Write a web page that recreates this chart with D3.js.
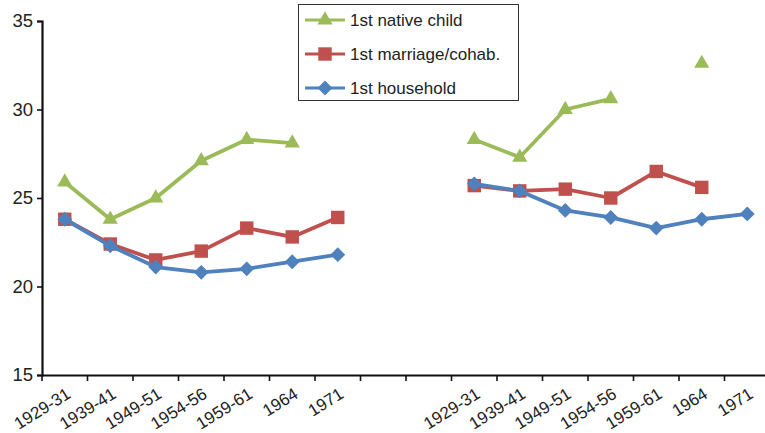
<!DOCTYPE html>
<html><head><meta charset="utf-8">
<script src="https://cdn.jsdelivr.net/npm/d3@7"></script>
<style>body{margin:0;background:#fff}svg{display:block}</style>
</head><body>
<svg id="c" width="765" height="433"></svg>
<script>
const categories = ["1929-31","1939-41","1949-51","1954-56","1959-61","1964","1971","gapA","gapB",
  "1929-31 ","1939-41 ","1949-51 ","1954-56 ","1959-61 ","1964 ","1971 "];
const tickLabels = ["1929-31","1939-41","1949-51","1954-56","1959-61","1964","1971","","",
  "1929-31","1939-41","1949-51","1954-56","1959-61","1964","1971"];
const nativeChildLeft = [25.9, 23.8, 25.0, 27.1, 28.3, 28.1, null];
const marriageLeft    = [23.8, 22.4, 21.5, 22.0, 23.3, 22.8, 23.9];
const householdLeft   = [23.8, 22.3, 21.1, 20.8, 21.0, 21.4, 21.8];
const nativeChildRight = [28.3, 27.3, 30.0, 30.6, null, 32.6, null];
const marriageRight    = [25.7, 25.4, 25.5, 25.0, 26.5, 25.6, null];
const householdRight   = [25.8, 25.4, 24.3, 23.9, 23.3, 23.8, 24.1];
const yTicks = [15, 20, 25, 30, 35];
const seriesNames = ["1st native child", "1st marriage/cohab.", "1st household"];

const colors = {child:"#9BBB59", marriage:"#C0504D", household:"#4F81BD"};
const FONT = "Liberation Sans, Arial, sans-serif";
const svg = d3.select("#c");
const x = d3.scaleBand().domain(categories).range([42, 770]).padding(0);
const y = d3.scaleLinear().domain([15, 35]).range([375, 21]);

// y axis
const ya = svg.append("g").attr("transform","translate(42,0)")
  .call(d3.axisLeft(y).tickValues(yTicks).tickSize(5).tickPadding(4));
ya.select(".domain").attr("stroke","#111").attr("stroke-width",2.2);
ya.selectAll(".tick line").attr("stroke","#111").attr("stroke-width",1.6);
ya.selectAll("text").attr("font-family",FONT).attr("font-size",18.5).attr("fill","#222");

// x axis
const xa = svg.append("g").attr("transform","translate(0,375)")
  .call(d3.axisBottom(x).tickSizeOuter(0).tickSize(0).tickFormat((d,i)=>tickLabels[i]));
xa.select(".domain").attr("stroke","#111").attr("stroke-width",2.2);
xa.selectAll(".tick line").remove();
const bounds = categories.map(c => x(c));
xa.selectAll("line.bt").data(bounds).enter().append("line")
  .attr("x1",d=>d).attr("x2",d=>d).attr("y1",0).attr("y2",6)
  .attr("stroke","#111").attr("stroke-width",1.6);
xa.selectAll(".tick text")
  .attr("font-family",FONT).attr("font-size",17).attr("fill","#222")
  .attr("text-anchor","end").attr("dy",0).attr("y",0)
  .attr("transform","translate(7,22) rotate(-32)");

const leftCats = categories.slice(0,7), rightCats = categories.slice(9);
function pts(cats, vals){ return cats.map((c,i)=>({x:x(c)+x.bandwidth()/2, v:vals[i]})); }
const line = d3.line().defined(d=>d.v!=null).x(d=>d.x).y(d=>y(d.v));

const diamond = { draw(ctx, size){ const r = Math.sqrt(size)/2; ctx.moveTo(0,-r); ctx.lineTo(r,0); ctx.lineTo(0,r); ctx.lineTo(-r,0); ctx.closePath(); } };
const sym = {child:d3.symbolTriangle, marriage:d3.symbolSquare, household:diamond};
const symSize = {child:100, marriage:180, household:220};
function drawSeries(key, p){
  svg.append("path").datum(p).attr("d",line).attr("fill","none")
    .attr("stroke",colors[key]).attr("stroke-width",3.8).attr("stroke-linejoin","round");
  svg.append("g").selectAll("path").data(p.filter(d=>d.v!=null)).enter().append("path")
    .attr("d", d3.symbol().type(sym[key]).size(symSize[key]))
    .attr("transform", d=>`translate(${d.x},${y(d.v)})`)
    .attr("fill",colors[key]);
}
drawSeries("child", pts(leftCats, nativeChildLeft));
drawSeries("marriage", pts(leftCats, marriageLeft));
drawSeries("household", pts(leftCats, householdLeft));
drawSeries("child", pts(rightCats, nativeChildRight));
drawSeries("marriage", pts(rightCats, marriageRight));
drawSeries("household", pts(rightCats, householdRight));

// legend
const lg = svg.append("g");
lg.append("rect").attr("x",298.5).attr("y",4.5).attr("width",220).attr("height",96)
  .attr("fill","#fff").attr("stroke","#333").attr("stroke-width",1);
const keys = ["child","marriage","household"];
keys.forEach((k,i)=>{
  const cy = 20 + i*34;
  lg.append("line").attr("x1",305).attr("x2",345).attr("y1",cy).attr("y2",cy)
    .attr("stroke",colors[k]).attr("stroke-width",3);
  lg.append("path").attr("d", d3.symbol().type(sym[k]).size(symSize[k]))
    .attr("transform",`translate(325,${cy})`).attr("fill",colors[k]);
  lg.append("text").attr("x",350).attr("y",cy+6).text(seriesNames[i])
    .attr("font-family",FONT).attr("font-size",17).attr("fill","#222");
});
</script>
</body></html>
